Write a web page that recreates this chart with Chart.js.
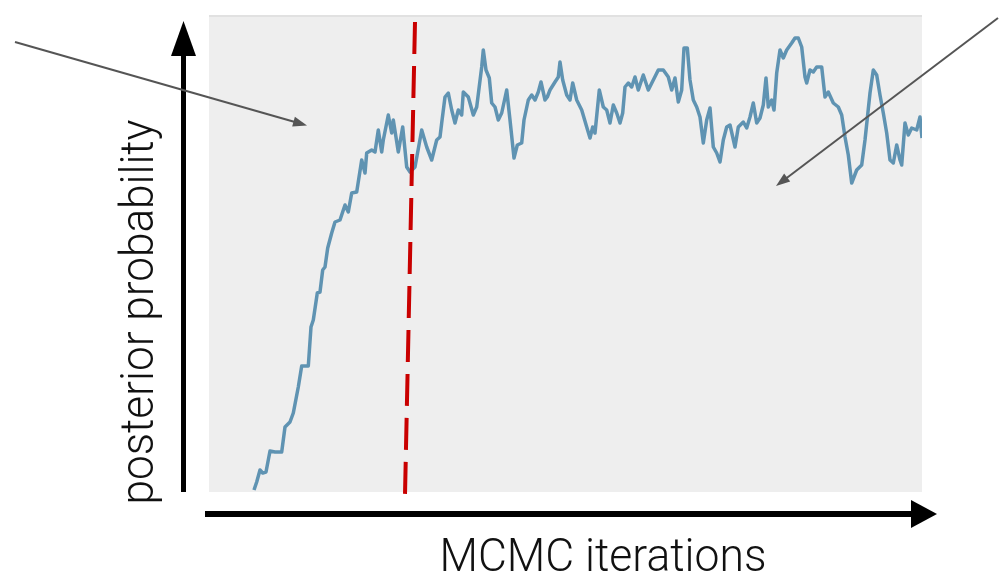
<!DOCTYPE html>
<html>
<head>
<meta charset="utf-8">
<script src="https://cdn.jsdelivr.net/npm/chart.js@4/dist/chart.umd.min.js"></script>
<style>
  html, body { margin: 0; padding: 0; background: #ffffff; }
  #wrap { width: 1000px; height: 575px; position: relative; }
</style>
</head>
<body>
<div id="wrap"><canvas id="trace"></canvas></div>
<script>
// MCMC trace: iteration number and (scaled) posterior probability of each sampled state
const iterations = [
  450, 477, 510, 537, 570, 610, 660, 727, 760, 810, 843, 893, 927, 993, 1020, 1043, 1083, 1110, 1137, 1160,
  1187, 1227, 1260, 1310, 1360, 1393, 1427, 1477, 1527, 1560, 1577, 1627, 1660, 1693, 1727, 1743, 1793, 1827, 1843, 1893,
  1937, 1977, 2010, 2060, 2127, 2177, 2227, 2277, 2310, 2327, 2360, 2393, 2427, 2460, 2493, 2527, 2543, 2593, 2643, 2677,
  2727, 2743, 2770, 2803, 2827, 2860, 2893, 2927, 2977, 3010, 3050, 3083, 3127, 3150, 3193, 3227, 3260, 3293, 3320, 3360,
  3383, 3410, 3460, 3493, 3510, 3537, 3577, 3610, 3637, 3677, 3727, 3777, 3810, 3837, 3860, 3903, 3943, 3977, 4010, 4043,
  4077, 4110, 4137, 4160, 4193, 4227, 4260, 4293, 4343, 4393, 4443, 4493, 4543, 4593, 4627, 4660, 4693, 4727, 4750, 4783,
  4810, 4843, 4877, 4910, 4943, 4977, 5010, 5043, 5077, 5110, 5143, 5177, 5210, 5260, 5293, 5343, 5377, 5410, 5443, 5477,
  5510, 5543, 5570, 5593, 5627, 5650, 5677, 5710, 5743, 5777, 5827, 5860, 5893, 5927, 5960, 5977, 6010, 6043, 6077, 6127,
  6160, 6193, 6243, 6293, 6327, 6360, 6393, 6427, 6477, 6527, 6560, 6610, 6643, 6677, 6710, 6743, 6777, 6810, 6843, 6877,
  6910, 6927, 6960, 6993, 7027, 7077, 7110, 7130
];
const posterior = [
  2, 10, 22, 19, 20, 41, 40, 40, 65, 70, 79, 105, 126, 126, 165, 172, 199, 200, 222, 225,
  244, 259, 270, 272, 287, 280, 299, 300, 332, 319, 339, 342, 340, 362, 340, 352, 377, 359, 372, 340,
  365, 325, 320, 325, 362, 345, 332, 352, 355, 369, 395, 399, 382, 369, 382, 377, 400, 395, 377, 385,
  425, 442, 422, 414, 389, 385, 372, 379, 402, 372, 334, 347, 349, 372, 392, 397, 392, 400, 410, 392,
  395, 402, 410, 415, 430, 412, 397, 392, 409, 392, 382, 365, 354, 365, 359, 402, 385, 382, 369, 387,
  379, 369, 379, 405, 409, 405, 415, 402, 417, 402, 412, 422, 422, 415, 402, 414, 390, 402, 444, 444,
  412, 392, 385, 375, 349, 372, 384, 345, 339, 330, 352, 365, 367, 345, 365, 370, 364, 375, 389, 369,
  374, 387, 414, 385, 392, 382, 419, 442, 434, 442, 449, 454, 454, 445, 415, 409, 422, 420, 425, 425,
  395, 400, 389, 385, 377, 355, 337, 309, 322, 327, 352, 399, 422, 417, 397, 379, 359, 332, 329, 347,
  332, 327, 369, 357, 364, 362, 375, 354
];
// Burn-in cut-off marker (top and bottom ends)
const burnInIterations = [2060, 1960];
const burnInPosterior = [470, -3];

const xMax = 7130;
const yMax = 477;
const xTitle = 'MCMC iterations';
const yTitle = 'posterior probability';

function arrowHead(ctx, x1, y1, x2, y2, len, half) {
  const ang = Math.atan2(y2 - y1, x2 - x1);
  ctx.beginPath();
  ctx.moveTo(x2, y2);
  ctx.lineTo(x2 - len * Math.cos(ang) + half * Math.sin(ang), y2 - len * Math.sin(ang) - half * Math.cos(ang));
  ctx.lineTo(x2 - len * Math.cos(ang) - half * Math.sin(ang), y2 - len * Math.sin(ang) + half * Math.cos(ang));
  ctx.closePath();
  ctx.fill();
}

function pointer(ctx, x1, y1, x2, y2) {
  const ang = Math.atan2(y2 - y1, x2 - x1);
  ctx.beginPath();
  ctx.moveTo(x1, y1);
  ctx.lineTo(x2 - 8 * Math.cos(ang), y2 - 8 * Math.sin(ang));
  ctx.stroke();
  arrowHead(ctx, x1, y1, x2, y2, 14, 5);
}

function fittedText(ctx, text, font, width) {
  ctx.font = font;
  const w = ctx.measureText(text).width;
  ctx.scale(width / w, 1);
  ctx.fillText(text, 0, 0);
}

const decor = {
  id: 'decor',
  beforeDatasetsDraw(chart) {
    const { ctx, chartArea: a } = chart;
    ctx.save();
    ctx.fillStyle = '#eeeeee';
    ctx.fillRect(a.left, a.top, a.right - a.left, a.bottom - a.top);
    ctx.fillStyle = '#e1e1e1';
    ctx.fillRect(a.left, a.top, a.right - a.left, 2);
    ctx.restore();
  },
  afterDraw(chart) {
    const { ctx, chartArea: a } = chart;
    ctx.save();
    // axis arrows
    ctx.fillStyle = '#000000';
    ctx.fillRect(181, 50, 5, a.bottom - 50);
    arrowHead(ctx, 183.5, 100, 183.5, 21, 35, 12.5);
    ctx.fillRect(205, 511, 712, 6);
    arrowHead(ctx, 850, 514, 937, 514, 26, 14);

    // pointer arrows
    ctx.strokeStyle = '#555555';
    ctx.fillStyle = '#555555';
    ctx.lineWidth = 2;
    pointer(ctx, 15, 42, 307, 125.5);
    pointer(ctx, 998, 18, 776, 186);

    // axis titles
    ctx.fillStyle = '#111111';
    ctx.textAlign = 'center';
    ctx.textBaseline = 'alphabetic';
    ctx.save();
    ctx.translate(603, 571);
    fittedText(ctx, xTitle, '300 46px Roboto, "Liberation Sans", sans-serif', 327);
    ctx.restore();

    ctx.save();
    ctx.translate(153, 312);
    ctx.rotate(-Math.PI / 2);
    fittedText(ctx, yTitle, '300 46px Roboto, "Liberation Sans", sans-serif', 385);
    ctx.restore();

    ctx.restore();
  }
};

new Chart(document.getElementById('trace'), {
  type: 'line',
  data: {
    datasets: [
      {
        label: 'burn-in',
        data: burnInIterations.map((x, i) => ({ x, y: burnInPosterior[i] })),
        borderColor: '#c90000',
        borderWidth: 4,
        borderDash: [32, 12],
        pointRadius: 0,
        clip: false,
        order: 0
      },
      {
        label: 'trace',
        data: iterations.map((x, i) => ({ x, y: posterior[i] })),
        borderColor: '#5f93b2',
        borderWidth: 3.5,
        borderJoinStyle: 'round',
        pointRadius: 0,
        tension: 0,
        order: 1
      }
    ]
  },
  options: {
    responsive: true,
    maintainAspectRatio: false,
    animation: false,
    layout: { padding: { left: 209, right: 78, top: 15, bottom: 83 } },
    plugins: { legend: { display: false }, tooltip: { enabled: false } },
    scales: {
      x: { type: 'linear', min: 0, max: xMax, display: false },
      y: { type: 'linear', min: 0, max: yMax, display: false }
    }
  },
  plugins: [decor]
});
</script>
</body>
</html>
